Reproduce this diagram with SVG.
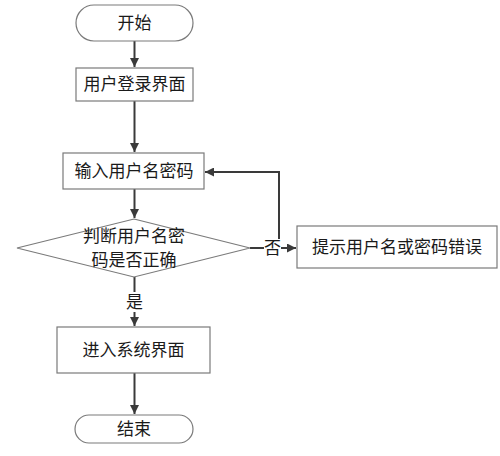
<svg xmlns="http://www.w3.org/2000/svg" width="500" height="456" viewBox="0 0 500 456">
<defs>
<marker id="ah" viewBox="0 0 10 10" refX="10" refY="5" markerWidth="9" markerHeight="9" markerUnits="userSpaceOnUse" orient="auto">
<path d="M0,0 L10,5 L0,10 z" fill="#3a3a3a"/>
</marker>
<style>
.n{fill:#fff;stroke:#7a7a7a;stroke-width:1.2}
.t{font-family:"Liberation Sans","Noto Sans CJK SC",sans-serif;font-size:17px;fill:#1a1a1a;text-anchor:middle;dominant-baseline:central}
.c{fill:none;stroke:#3a3a3a;stroke-width:2;marker-end:url(#ah)}
.l{fill:none;stroke:#3a3a3a;stroke-width:2}
</style>
</defs>
<rect width="500" height="456" fill="#fff"/>
<g id="connectors">
<path class="c" d="M134.5,41 V67"/>
<path class="c" d="M134.5,101 V152"/>
<path class="c" d="M134.5,189 V218"/>
<path class="c" d="M250,248 H296"/>
<path class="c" d="M279,248 V172 H205"/>
<path class="l" d="M134.5,277 V292"/>
<path class="c" d="M134.5,312 V326"/>
<path class="c" d="M134.5,373 V414"/>
<rect x="264" y="239" width="17" height="19" fill="#fff"/>
<text class="t" x="272.5" y="248">否</text>
<rect x="125" y="292" width="19" height="20" fill="#fff"/>
<text class="t" x="134.5" y="302">是</text>
</g>
<g id="start">
<rect class="n" x="76" y="5" width="117" height="36" rx="18"/>
<text class="t" x="134.5" y="23">开始</text>
</g>
<g id="login">
<rect class="n" x="76" y="68" width="117" height="33"/>
<text class="t" x="134.5" y="84.5">用户登录界面</text>
</g>
<g id="input">
<rect class="n" x="63" y="153" width="141" height="36"/>
<text class="t" x="134" y="171">输入用户名密码</text>
</g>
<g id="check">
<polygon class="n" points="134,219 250,248 134,277 17,248"/>
<text class="t" x="134" y="236">判断用户名密</text>
<text class="t" x="134" y="260">码是否正确</text>
</g>
<g id="error">
<rect class="n" x="297" y="226" width="200" height="42"/>
<text class="t" x="397" y="247">提示用户名或密码错误</text>
</g>
<g id="enter">
<rect class="n" x="57" y="327" width="153" height="46"/>
<text class="t" x="133.5" y="350">进入系统界面</text>
</g>
<g id="end">
<rect class="n" x="75" y="415" width="118" height="28" rx="14"/>
<text class="t" x="134" y="429">结束</text>
</g>
</svg>
